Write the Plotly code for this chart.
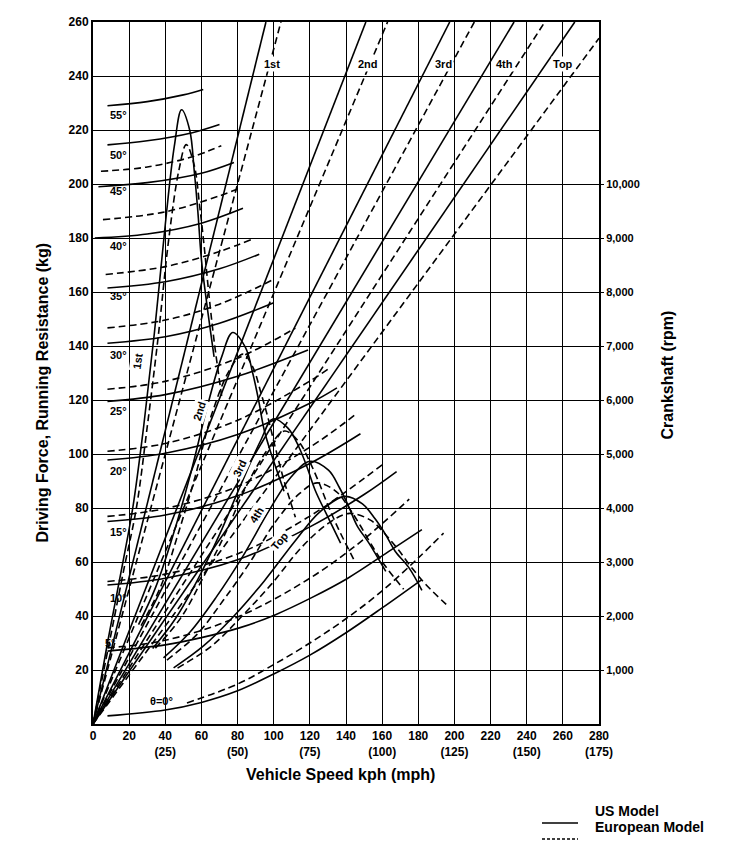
import plotly.graph_objects as go

# ---------------- data ----------------
GRADE_LABELS = ["θ=0°", "5°", "10°", "15°", "20°", "25°", "30°", "35°", "40°", "45°", "50°", "55°"]
GRADE_LABEL_KPH = [30.4, 5.5, 8.3, 8.3, 8.3, 8.3, 8.3, 8.3, 8.3, 8.3, 8.3, 8.3]
GRADE_LABEL_KG = [8.4, 30, 46.7, 71.1, 93.8, 115.8, 136.8, 158.4, 176.9, 197.3, 210.9, 225.7]

# running resistance, US model (solid), grades 0..55 deg
US_GRADE_KPH = [
    [8, 40, 60, 80, 100, 120, 140, 160, 182],
    [8, 40, 60, 81, 101, 121, 141, 165, 182],
    [8, 40, 80, 120, 150, 168],
    [8, 40, 80, 120, 148],
    [8, 40, 80, 120, 135],
    [8, 40, 80, 119],
    [8, 40, 70, 100],
    [8, 40, 70, 92],
    [1, 30, 60, 83],
    [3, 30, 60, 78],
    [8, 30, 55, 70],
    [8, 30, 50, 61],
]
US_GRADE_KG = [
    [3, 5.2, 8, 12.3, 18.5, 25.5, 33.8, 43, 53.5],
    [27, 29.3, 32, 35.6, 40.5, 46.8, 54, 64.5, 72],
    [51.5, 54, 60.8, 73, 85, 93.5],
    [75, 77.4, 84.5, 96.5, 107.5],
    [97.8, 100.3, 107.2, 118.8, 124.5],
    [119.5, 122, 128.8, 138.5],
    [141, 143.4, 148.4, 156],
    [161.5, 163.8, 168.6, 174],
    [180, 181.5, 185.5, 191],
    [199, 200.5, 204, 208],
    [214.5, 216, 219, 222],
    [229, 230.5, 233, 235],
]
# running resistance, European model (dashed), grades 0..45 deg
EU_GRADE_KPH = [
    [52, 80, 100, 120, 140, 160, 180, 194],
    [8, 40, 80, 120, 150, 175],
    [8, 40, 80, 120, 160],
    [8, 40, 80, 120, 145],
    [8, 40, 80, 120, 130],
    [8, 40, 80, 112],
    [8, 40, 70, 100],
    [7, 40, 70, 88],
    [5.5, 40, 70, 82],
    [4.4, 30, 55, 71],
]
EU_GRADE_KG = [
    [7.8, 14.8, 22, 30, 39, 49.3, 61.5, 70.7],
    [28.2, 31, 39.6, 54, 68.5, 83.3],
    [52.8, 55.5, 63, 77, 96],
    [76.9, 79.8, 88, 102.5, 114.5],
    [101, 103.9, 112.5, 127, 131.4],
    [124, 126.9, 135.5, 146.6],
    [146.7, 149.6, 155.5, 164.7],
    [166.5, 169.4, 175, 179.5],
    [186.8, 189.7, 195.6, 198.7],
    [204.7, 206.3, 210.1, 214.2],
]

GEARS = ["1st", "2nd", "3rd", "4th", "Top"]
# driving force, US model (solid)
US_DRIVE_KPH = [
    [0, 8, 16, 22, 28, 34, 40, 45, 49, 53.5, 56, 58, 60, 62.7, 67],
    [25.2, 34.7, 44.2, 53.7, 63.1, 71, 77.3, 84.4, 88.4, 91.5, 94.7, 98.9, 105.7],
    [33, 45.4, 57.8, 70.1, 82.5, 92.8, 99.5, 108, 114, 118.5, 123, 129, 137],
    [39, 53.6, 68.2, 82.8, 97.4, 109.6, 120, 130.3, 136.4, 141.2, 146.1, 152.7, 162],
    [44.6, 61.3, 78, 94.8, 111.5, 125.4, 139.3, 149.1, 156.1, 161.6, 167.2, 174.7, 182],
]
US_DRIVE_KG = [
    [0, 30, 58, 80, 110, 145, 185, 214, 227.5, 220, 205, 190, 172, 157, 136],
    [36.8, 50.7, 69.7, 91.9, 117.2, 135.6, 145, 139.4, 129.9, 120.4, 109, 99.5, 86.2],
    [28, 38.8, 53.3, 70.3, 89.7, 105, 113, 109.5, 102.5, 95, 86.5, 78, 67],
    [24.5, 34, 47, 62, 79, 91.5, 97.3, 94, 87.5, 81, 73.5, 67, 56.5],
    [20.8, 29, 40, 53, 67.5, 78.5, 84.3, 81.5, 76, 70.5, 64, 58, 49.5],
]
# driving force, European model (dashed)
EU_DRIVE_KPH = [
    [0, 9, 17, 24, 30, 36, 42, 47.5, 51.6, 56, 59, 61.5, 64, 67, 71.5],
    [26.6, 37.6, 47, 56.4, 65.8, 75.5, 83, 88.5, 93, 97, 101, 105.5, 112],
    [34.5, 48.7, 60.9, 73.1, 85.3, 97, 106, 114, 120, 125, 130, 136, 145],
    [40.9, 57.7, 72.1, 86.5, 101, 114.2, 124, 134.6, 141.8, 147.8, 153.9, 161.1, 171.9],
    [46.8, 66, 82.5, 99, 115.5, 130.6, 141.9, 154, 162.3, 169.1, 176, 184.3, 197],
]
EU_DRIVE_KG = [
    [0, 30, 57, 80, 110, 143, 180, 205, 214.6, 207, 192, 177, 160, 142, 120],
    [36.4, 51.1, 70.2, 91.3, 114.9, 131, 137, 132.1, 122.5, 113, 102.1, 90.6, 76.6],
    [28.1, 39.4, 54.2, 70.4, 88.7, 102, 108.5, 104.5, 97, 89.5, 81, 72, 60],
    [23.7, 33.3, 45.8, 59.5, 74.9, 85.3, 89.3, 86.1, 79.9, 73.6, 66.6, 59.1, 49.9],
    [20.7, 29.1, 40, 52, 65.5, 74.5, 78, 75.3, 69.8, 64.4, 58.2, 51.6, 43.3],
]

# crankshaft speed lines (from origin), end point of each line
US_RPM_END_KPH = [95.7, 151, 197.4, 233, 266.6]
US_RPM_END = [13000, 13000, 13000, 13000, 13000]
EU_RPM_END_KPH = [104, 163, 211, 250, 280]
EU_RPM_END = [13000, 13000, 13000, 13000, 12700]
GEAR_TOP_LABEL_KPH = [99, 152, 193.7, 227.8, 260]
GEAR_CURVE_LABEL_KPH = [24.9, 59, 81.2, 90.4, 103.3]
GEAR_CURVE_LABEL_KG = [134.3, 115.8, 94.8, 77.5, 67.7]
GEAR_CURVE_LABEL_ANGLE = [-82, -72, -64, -58, -50]

X_TICKS = list(range(0, 281, 20))
X_TICKTEXT = ["0", "20", "40<br>(25)", "60", "80<br>(50)", "100", "120<br>(75)", "140",
              "160<br>(100)", "180", "200<br>(125)", "220", "240<br>(150)", "260", "280<br>(175)"]
Y_TICKS = list(range(20, 261, 20))
RPM_TICKS = list(range(1000, 10001, 1000))
RPM_TICKTEXT = ["1,000", "2,000", "3,000", "4,000", "5,000", "6,000", "7,000", "8,000", "9,000", "10,000"]

# ---------------- figure ----------------
FONT = "Liberation Sans, Arial, sans-serif"
solid = dict(color="black", width=1.6)
dashed = dict(color="black", width=1.6, dash="7px,4px")

fig = go.Figure()
def add_curves(xs, ys, style, spline=True):
    for kx, ky in zip(xs, ys):
        ln = dict(**style)
        if spline:
            ln["shape"] = "spline"
        fig.add_trace(go.Scatter(x=kx, y=ky, mode="lines", line=ln, showlegend=False, hoverinfo="skip"))

add_curves(US_GRADE_KPH, US_GRADE_KG, solid)
add_curves(EU_GRADE_KPH, EU_GRADE_KG, dashed)
add_curves(US_DRIVE_KPH, US_DRIVE_KG, solid)
add_curves(EU_DRIVE_KPH, EU_DRIVE_KG, dashed)
for ex, ey in zip(US_RPM_END_KPH, US_RPM_END):
    fig.add_trace(go.Scatter(x=[0, ex], y=[0, ey], yaxis="y2", mode="lines", line=solid, showlegend=False, hoverinfo="skip"))
for ex, ey in zip(EU_RPM_END_KPH, EU_RPM_END):
    fig.add_trace(go.Scatter(x=[0, ex], y=[0, ey], yaxis="y2", mode="lines", line=dashed, showlegend=False, hoverinfo="skip"))

ann = []
for t, gx, gy in zip(GRADE_LABELS, GRADE_LABEL_KPH, GRADE_LABEL_KG):
    ann.append(dict(x=gx, y=gy, text=t, showarrow=False, xanchor="left", yanchor="middle",
                    font=dict(size=11, family=FONT, weight="bold")))
for t, gx in zip(GEARS, GEAR_TOP_LABEL_KPH):
    ann.append(dict(x=gx, y=244.5, text=t, showarrow=False, xanchor="center", yanchor="middle",
                    bgcolor="white", font=dict(size=11, family=FONT, weight="bold")))
for t, gx, gy, ang in zip(GEARS, GEAR_CURVE_LABEL_KPH, GEAR_CURVE_LABEL_KG, GEAR_CURVE_LABEL_ANGLE):
    ann.append(dict(x=gx, y=gy, text=t, showarrow=False, textangle=ang, bgcolor="white",
                    font=dict(size=11, family=FONT, weight="bold")))

# axis titles
ann.append(dict(xref="paper", yref="paper", x=(23 - 85) / 506, y=(716 - 385) / 702, text="Driving Force, Running Resistance (kg)",
                textangle=-90, showarrow=False, font=dict(size=16, family=FONT, weight="bold")))
ann.append(dict(xref="paper", yref="paper", x=(669 - 85) / 506, y=(716 - 367) / 702, text="Crankshaft (rpm)",
                textangle=-90, showarrow=False, font=dict(size=16, family=FONT, weight="bold")))
ann.append(dict(xref="paper", yref="paper", x=(332 - 85) / 506, y=(716 - 777) / 702, text="Vehicle Speed kph (mph)",
                showarrow=False, font=dict(size=16, family=FONT, weight="bold")))
# legend
ann.append(dict(xref="paper", yref="paper", x=(585 - 85) / 506, y=(716 - 813) / 702, text="US Model", xanchor="left",
                showarrow=False, font=dict(size=14, family=FONT, weight="bold")))
ann.append(dict(xref="paper", yref="paper", x=(585 - 85) / 506, y=(716 - 829) / 702, text="European Model", xanchor="left",
                showarrow=False, font=dict(size=14, family=FONT, weight="bold")))

shapes = [
    dict(type="line", xref="paper", yref="paper", x0=(534 - 85) / 506, x1=(570 - 85) / 506,
         y0=(716 - 815) / 702, y1=(716 - 815) / 702, line=dict(color="black", width=1.6)),
    dict(type="line", xref="paper", yref="paper", x0=(534 - 85) / 506, x1=(570 - 85) / 506,
         y0=(716 - 831) / 702, y1=(716 - 831) / 702, line=dict(color="black", width=1.6, dash="3px,2px")),
]

fig.update_layout(
    width=745, height=850,
    margin=dict(l=85, r=154, t=14, b=134),
    paper_bgcolor="white", plot_bgcolor="white",
    showlegend=False,
    font=dict(family=FONT, color="black"),
    annotations=ann, shapes=shapes,
    xaxis=dict(range=[0, 280], tickvals=X_TICKS, ticktext=X_TICKTEXT, showgrid=True, gridcolor="black",
               gridwidth=1, showline=True, linecolor="black", linewidth=2, mirror=True, zeroline=False,
               ticks="", tickfont=dict(size=12, family=FONT, weight="bold"), automargin=False),
    yaxis=dict(range=[0, 260], tickvals=Y_TICKS, showgrid=True, gridcolor="black", gridwidth=1,
               showline=True, linecolor="black", linewidth=2, mirror=True, zeroline=False,
               ticks="", tickfont=dict(size=12, family=FONT, weight="bold"), automargin=False),
    yaxis2=dict(range=[0, 13000], overlaying="y", side="right", tickvals=RPM_TICKS, ticktext=RPM_TICKTEXT,
                showgrid=False, zeroline=False, ticks="outside", ticklen=4, tickcolor="black",
                tickfont=dict(size=11, family=FONT, weight="bold"), automargin=False),
)

fig.write_html("out.html")
